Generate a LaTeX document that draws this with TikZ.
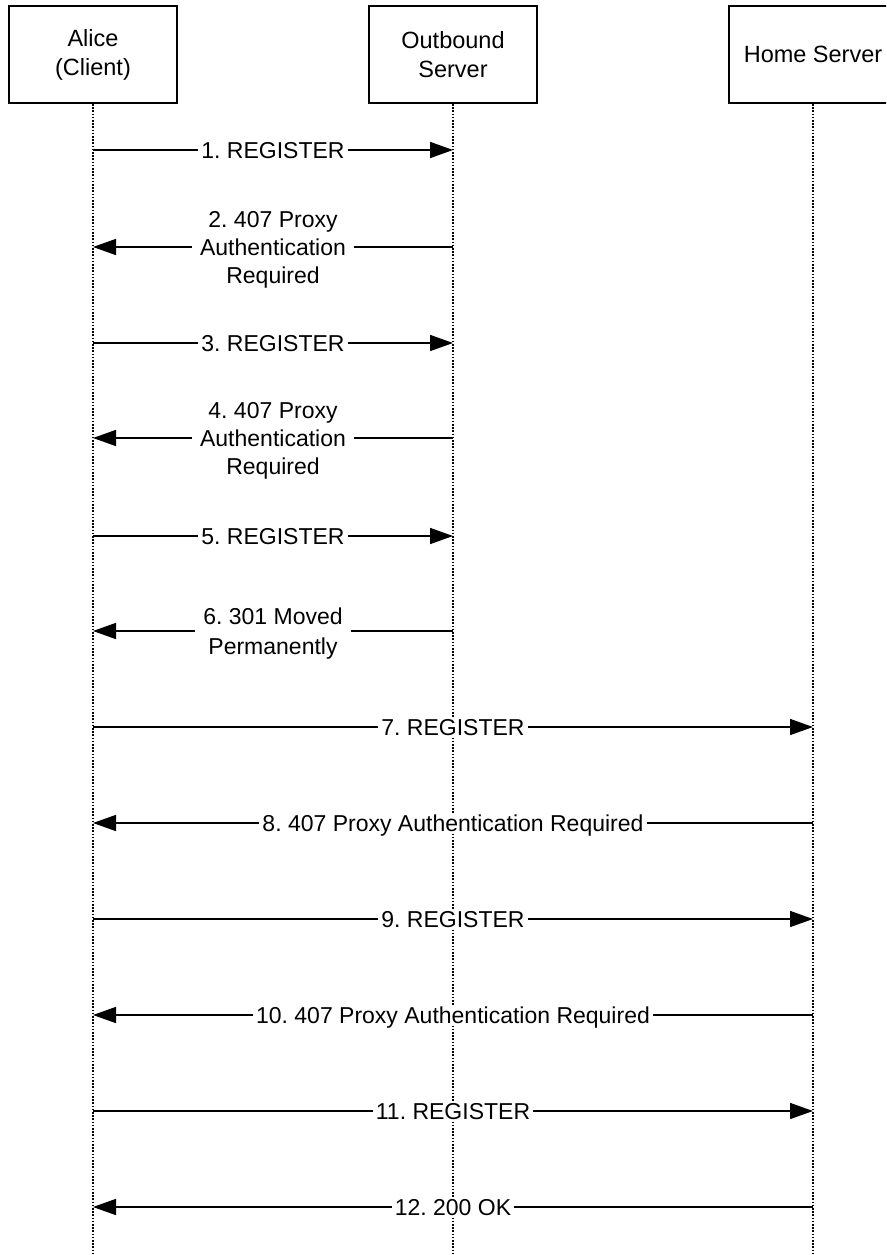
\documentclass[tikz,border=0pt]{standalone}
\usepackage{fontspec}
\setmainfont{Liberation Sans}
\usetikzlibrary{arrows.meta}
\frenchspacing
\begin{document}
\begin{tikzpicture}[x=1pt,y=-1pt,
  actor/.style={draw=black, line width=1.8pt, minimum width=168pt, minimum height=97pt,
    align=center, font=\fontsize{23.5}{29}\selectfont, inner sep=0pt, fill=white},
  life/.style={line width=1.3pt, dash pattern=on 1.6pt off 1.6pt, draw=black},
  msg/.style={line width=1.6pt, -{Triangle[length=23pt,width=16pt]}},
  lbl/.style={fill=white, font=\fontsize{23}{28}\selectfont, align=center,
    inner xsep=3pt, inner ysep=2pt, text depth=0pt},
  wide/.style={inner xsep=8pt}]
\useasboundingbox (0,0) rectangle (886,1255);
\clip (0,0) rectangle (886,1255);

% actors
\node[actor] (alice) at (93,54.5) {Alice\\(Client)};
\node[actor] (out) at (453,54.5) {Outbound\\Server};
\node[actor] (home) at (813,54.5) {Home Server};

% lifeline ends
\coordinate (aliceEnd) at (93,1256);
\coordinate (outEnd) at (453,1256);
\coordinate (homeEnd) at (813,1256);
\draw[life] (alice.south) -- (aliceEnd);
\draw[life] (out.south) -- (outEnd);
\draw[life] (home.south) -- (homeEnd);

% message anchor points on the lifelines
\foreach \i/\y in {1/150,2/247,3/343,4/438,5/536,6/631,7/727,8/823,9/919,10/1015,11/1111,12/1207}{
  \coordinate (A\i) at (93,\y);
  \coordinate (O\i) at (453,\y);
  \coordinate (H\i) at (813,\y);
}

% messages
\draw[msg] (A1) -- node[lbl] {1. REGISTER} (O1);
\draw[msg] (O2) -- node[lbl, wide] {2. 407 Proxy\\Authentication\\Required} (A2);
\draw[msg] (A3) -- node[lbl] {3. REGISTER} (O3);
\draw[msg] (O4) -- node[lbl, wide] {4. 407 Proxy\\Authentication\\Required} (A4);
\draw[msg] (A5) -- node[lbl] {5. REGISTER} (O5);
\draw[msg] (O6) -- node[lbl, wide, font=\fontsize{23}{30}\selectfont] {6. 301 Moved\\Permanently} (A6);
\draw[msg] (A7) -- node[lbl] {7. REGISTER} (H7);
\draw[msg] (H8) -- node[lbl] {8. 407 Proxy Authentication Required} (A8);
\draw[msg] (A9) -- node[lbl] {9. REGISTER} (H9);
\draw[msg] (H10) -- node[lbl] {10. 407 Proxy Authentication Required} (A10);
\draw[msg] (A11) -- node[lbl] {11. REGISTER} (H11);
\draw[msg] (H12) -- node[lbl] {12. 200 OK} (A12);
\end{tikzpicture}
\end{document}
